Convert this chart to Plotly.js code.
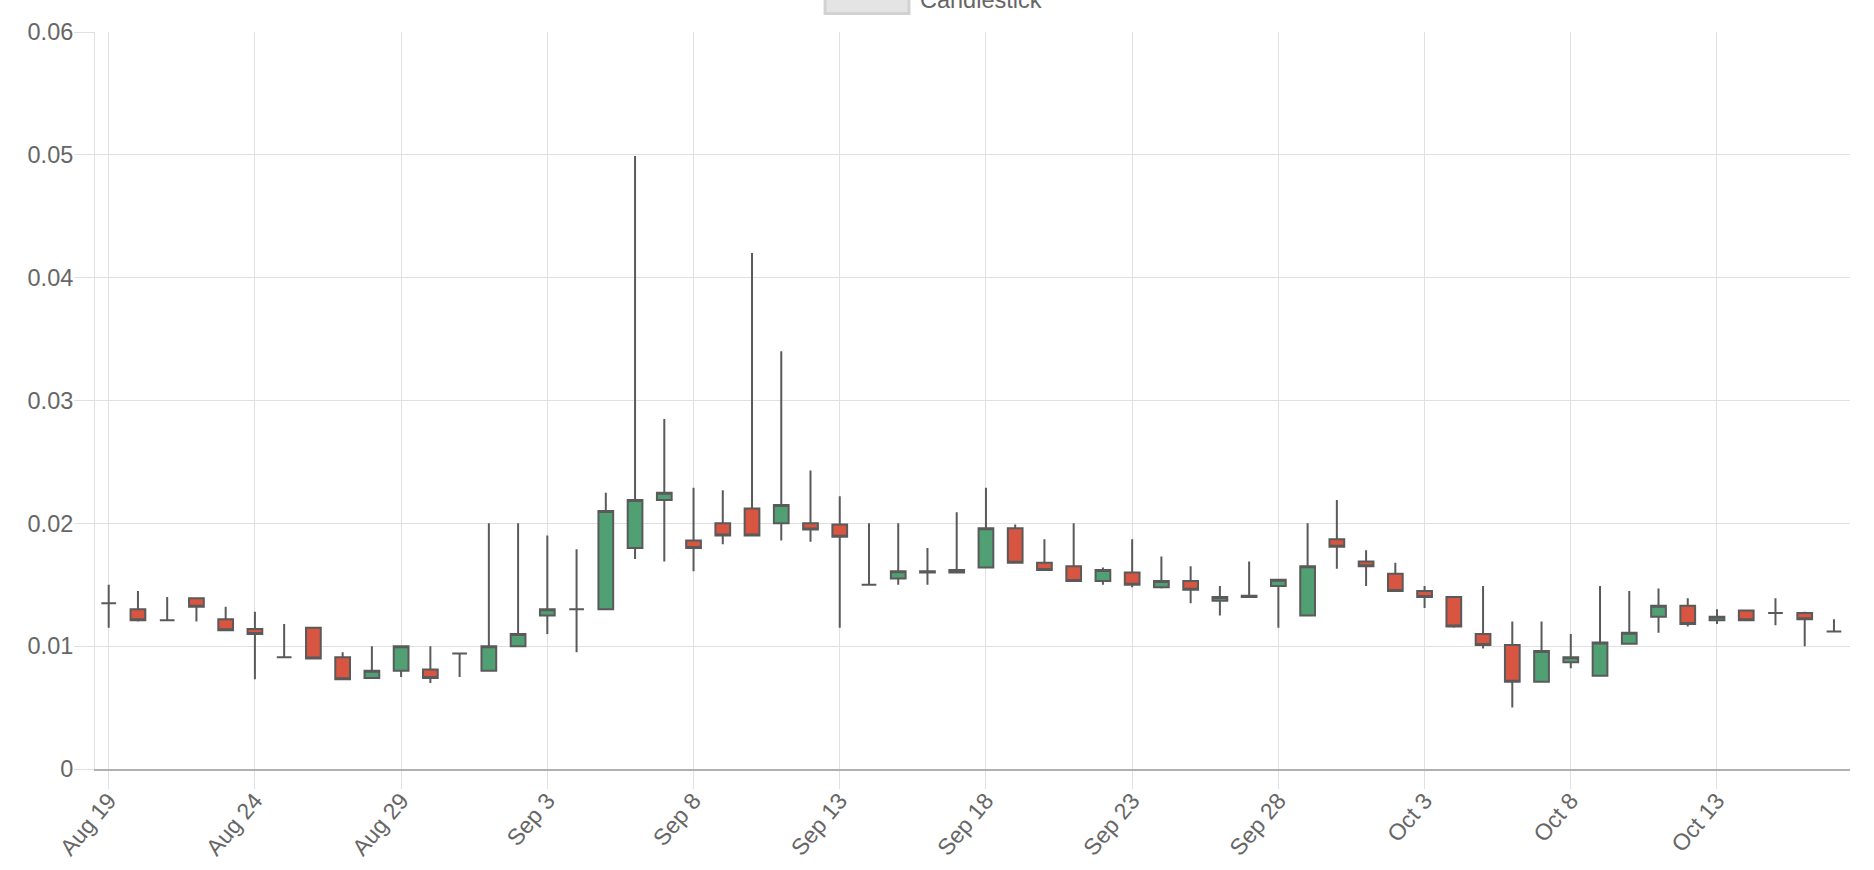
<!DOCTYPE html>
<html>
<head>
<meta charset="utf-8">
<script src="https://cdn.plot.ly/plotly-3.0.1.min.js"></script>
<style>
  html, body { margin: 0; padding: 0; background: #ffffff; }
  #chart { width: 1874px; height: 870px; }
</style>
</head>
<body>
<div id="chart"></div>
<script>
// ---- Data ----
const dates = [
  '2019-08-19','2019-08-20','2019-08-21','2019-08-22','2019-08-23','2019-08-24','2019-08-25','2019-08-26','2019-08-27','2019-08-28',
  '2019-08-29','2019-08-30','2019-08-31','2019-09-01','2019-09-02','2019-09-03','2019-09-04','2019-09-05','2019-09-06','2019-09-07',
  '2019-09-08','2019-09-09','2019-09-10','2019-09-11','2019-09-12','2019-09-13','2019-09-14','2019-09-15','2019-09-16','2019-09-17',
  '2019-09-18','2019-09-19','2019-09-20','2019-09-21','2019-09-22','2019-09-23','2019-09-24','2019-09-25','2019-09-26','2019-09-27',
  '2019-09-28','2019-09-29','2019-09-30','2019-10-01','2019-10-02','2019-10-03','2019-10-04','2019-10-05','2019-10-06','2019-10-07',
  '2019-10-08','2019-10-09','2019-10-10','2019-10-11','2019-10-12','2019-10-13','2019-10-14','2019-10-15','2019-10-16','2019-10-17'
];
const openVals = [
  0.0135,0.0130,0.0121,0.0139,0.0122,0.0114,0.0091,0.0115,0.0091,0.0074,
  0.0080,0.0081,0.0094,0.0080,0.0100,0.0125,0.0130,0.0130,0.0180,0.0219,
  0.0186,0.0200,0.0212,0.0200,0.0200,0.0199,0.0150,0.0155,0.0160,0.0160,
  0.0164,0.0196,0.0168,0.0165,0.0153,0.0160,0.0148,0.0153,0.0137,0.0140,
  0.0149,0.0125,0.0187,0.0169,0.0159,0.0145,0.0140,0.0110,0.0101,0.0071,
  0.0087,0.0076,0.0102,0.0124,0.0133,0.0121,0.0129,0.0127,0.0127,0.0112
];
const highVals = [
  0.0150,0.0145,0.0140,0.0139,0.0132,0.0128,0.0118,0.0115,0.0095,0.0100,
  0.0100,0.0100,0.0094,0.0200,0.0200,0.0190,0.0179,0.0225,0.0499,0.0285,
  0.0229,0.0227,0.0420,0.0340,0.0243,0.0222,0.0200,0.0200,0.0180,0.0209,
  0.0229,0.0199,0.0187,0.0200,0.0164,0.0187,0.0173,0.0165,0.0149,0.0169,
  0.0154,0.0200,0.0219,0.0178,0.0168,0.0149,0.0140,0.0149,0.0120,0.0120,
  0.0110,0.0149,0.0145,0.0147,0.0139,0.0130,0.0129,0.0139,0.0128,0.0122
];
const lowVals = [
  0.0115,0.0120,0.0121,0.0120,0.0113,0.0073,0.0091,0.0090,0.0073,0.0074,
  0.0075,0.0070,0.0075,0.0080,0.0100,0.0110,0.0095,0.0130,0.0171,0.0169,
  0.0161,0.0183,0.0190,0.0186,0.0185,0.0115,0.0150,0.0150,0.0150,0.0160,
  0.0164,0.0168,0.0162,0.0153,0.0150,0.0148,0.0147,0.0135,0.0125,0.0140,
  0.0115,0.0125,0.0163,0.0149,0.0145,0.0131,0.0115,0.0098,0.0050,0.0071,
  0.0082,0.0076,0.0102,0.0111,0.0116,0.0118,0.0121,0.0117,0.0100,0.0112
];
const closeVals = [
  0.0135,0.0121,0.0121,0.0132,0.0113,0.0110,0.0091,0.0090,0.0073,0.0080,
  0.0100,0.0074,0.0094,0.0100,0.0110,0.0130,0.0130,0.0210,0.0219,0.0225,
  0.0180,0.0190,0.0190,0.0215,0.0195,0.0189,0.0150,0.0161,0.0161,0.0162,
  0.0196,0.0168,0.0162,0.0153,0.0162,0.0150,0.0153,0.0146,0.0140,0.0141,
  0.0154,0.0165,0.0181,0.0165,0.0145,0.0140,0.0116,0.0101,0.0071,0.0096,
  0.0091,0.0103,0.0111,0.0133,0.0118,0.0124,0.0121,0.0127,0.0122,0.0112
];
const seriesName = 'Candlestick';

// ---- Styles ----
const upColor = 'rgb(80,160,115)';
const downColor = 'rgb(215,85,65)';
const edgeColor = 'rgb(90,90,90)';
const gridColor = '#e0e0e0';
const textColor = '#666666';
const fontFamily = '"Liberation Sans", Arial, Helvetica, sans-serif';

const trace = {
  type: 'candlestick',
  name: seriesName,
  x: dates,
  open: openVals,
  high: highVals,
  low: lowVals,
  close: closeVals,
  whiskerwidth: 0,
  line: { width: 2 },
  increasing: { fillcolor: upColor, line: { color: edgeColor, width: 2 } },
  decreasing: { fillcolor: downColor, line: { color: edgeColor, width: 2 } },
  showlegend: false
};

const layout = {
  width: 1874,
  height: 870,
  margin: { l: 95, r: 24, t: 32, b: 101, pad: 0 },
  paper_bgcolor: '#ffffff',
  plot_bgcolor: '#ffffff',
  font: { family: fontFamily, size: 23, color: textColor },
  showlegend: false,
  boxgap: 0.28,
  xaxis: {
    type: 'date',
    range: ['2019-08-18 12:45', '2019-10-17 13:10'],
    rangeslider: { visible: false },
    tick0: '2019-08-19',
    dtick: 5 * 86400000,
    tickformat: '%b %-d',
    tickangle: -50,
    ticks: 'outside',
    ticklen: 18,
    tickwidth: 1,
    tickcolor: gridColor,
    ticklabelstandoff: -11,
    showgrid: true,
    gridcolor: gridColor,
    gridwidth: 1,
    showline: true,
    linecolor: '#b0b0b0',
    linewidth: 2,
    zeroline: false,
    tickfont: { family: fontFamily, size: 23, color: textColor },
    fixedrange: true
  },
  yaxis: {
    range: [0, 0.06],
    tick0: 0,
    dtick: 0.01,
    ticks: 'outside',
    ticklen: 20,
    tickwidth: 1,
    tickcolor: gridColor,
    ticklabelstandoff: -4,
    showgrid: true,
    gridcolor: gridColor,
    gridwidth: 1,
    showline: true,
    linecolor: gridColor,
    linewidth: 1,
    zeroline: false,
    tickfont: { family: fontFamily, size: 23.5, color: textColor },
    fixedrange: true
  },
  shapes: [
    {
      type: 'rect', xref: 'paper', yref: 'paper',
      x0: 0.4160, x1: 0.4638, y0: 1.0250, y1: 1.0600,
      fillcolor: '#e4e4e4',
      line: { color: '#d2d2d2', width: 3 }
    }
  ],
  annotations: [
    {
      xref: 'paper', yref: 'paper',
      x: 0.4690, y: 1.0430,
      xanchor: 'left', yanchor: 'middle',
      text: seriesName,
      showarrow: false,
      font: { family: fontFamily, size: 23.5, color: textColor }
    }
  ]
};

Plotly.newPlot('chart', [trace], layout, { displayModeBar: false, staticPlot: true });
</script>
</body>
</html>
